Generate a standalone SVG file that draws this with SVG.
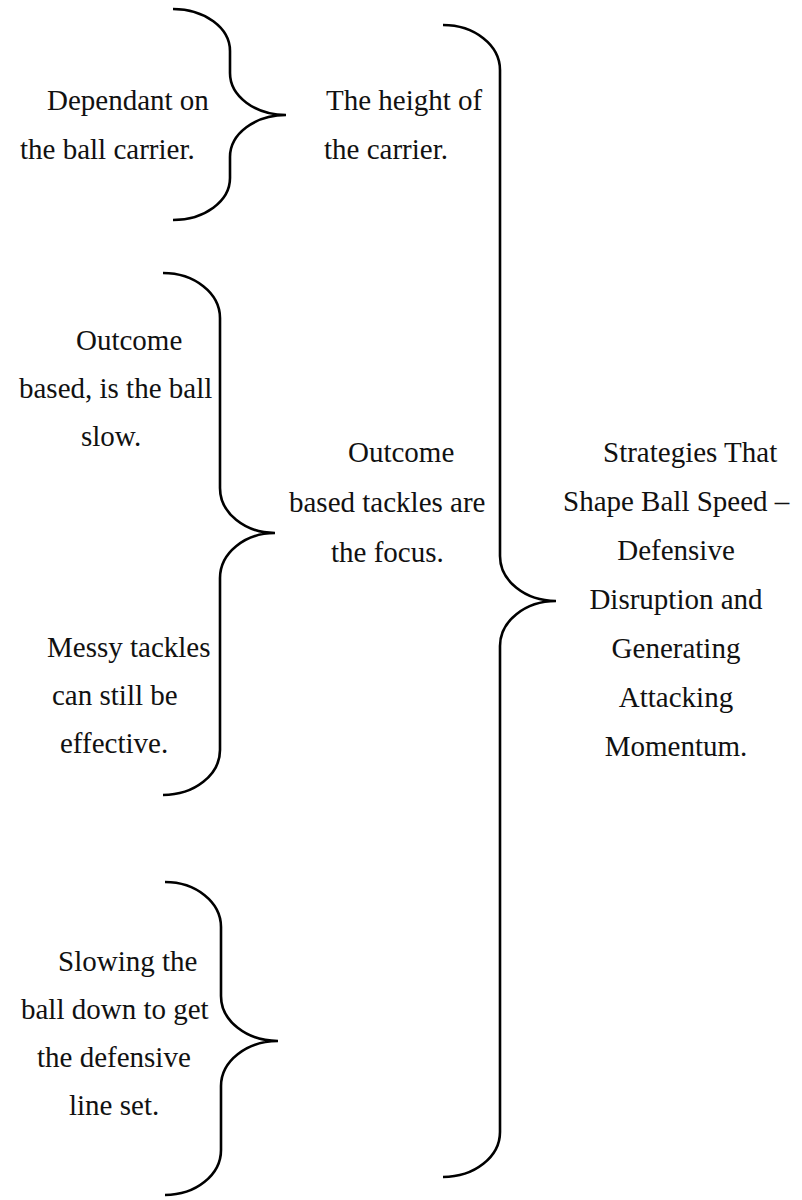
<svg xmlns="http://www.w3.org/2000/svg" width="802" height="1200" viewBox="0 0 802 1200">
  <style>
    .brace { fill: none; stroke: #000; stroke-width: 2.6; stroke-linecap: butt; }
    text { font-family: "Liberation Serif", "Times New Roman", serif; font-size: 29px; fill: #111; }
  </style>
  <rect width="802" height="1200" fill="#fff"/>

  <!-- curly braces -->
  <g id="connectors">
    <path class="brace" d="M173,9 A57,42 0 0 1 230,51 L230,73 A56,42 0 0 0 286,115 A56,42 0 0 0 230,157 L230,178 A57,42 0 0 1 173,220"/>
    <path class="brace" d="M443,25 A57,45 0 0 1 500,70 L500,556 A56,45 0 0 0 556,601 A56,45 0 0 0 500,646 L500,1132 A57,45 0 0 1 443,1177"/>
    <path class="brace" d="M163,273 A57,45 0 0 1 220,318 L220,488 A55,45 0 0 0 275,533 A55,45 0 0 0 220,578 L220,750 A57,45 0 0 1 163,795"/>
    <path class="brace" d="M165,882 A56,45 0 0 1 221,927 L221,996 A57,45 0 0 0 278,1041 A57,45 0 0 0 221,1086 L221,1150 A56,45 0 0 1 165,1195"/>
  </g>

  <g id="node-carrier-dependant">
    <text x="47" y="110">Dependant on</text>
    <text x="20" y="159">the ball carrier.</text>
  </g>

  <g id="node-carrier-height">
    <text x="326" y="110">The height of</text>
    <text x="324" y="159">the carrier.</text>
  </g>

  <g id="node-outcome-slow">
    <text x="76" y="350">Outcome</text>
    <text x="19" y="398">based, is the ball</text>
    <text x="81" y="446">slow.</text>
  </g>

  <g id="node-outcome-focus">
    <text x="348" y="462">Outcome</text>
    <text x="289" y="512">based tackles are</text>
    <text x="331" y="562">the focus.</text>
  </g>

  <g id="node-messy">
    <text x="47" y="657">Messy tackles</text>
    <text x="52" y="705">can still be</text>
    <text x="60" y="753">effective.</text>
  </g>

  <g id="node-slowing">
    <text x="58" y="971">Slowing the</text>
    <text x="21" y="1019">ball down to get</text>
    <text x="37" y="1067">the defensive</text>
    <text x="69" y="1115">line set.</text>
  </g>

  <g id="node-strategies">
    <text x="603" y="462">Strategies That</text>
    <text x="563" y="511">Shape Ball Speed –</text>
    <text x="676" y="560" text-anchor="middle">Defensive</text>
    <text x="676" y="609" text-anchor="middle">Disruption and</text>
    <text x="676" y="658" text-anchor="middle">Generating</text>
    <text x="676" y="707" text-anchor="middle">Attacking</text>
    <text x="676" y="756" text-anchor="middle">Momentum.</text>
  </g>
</svg>
